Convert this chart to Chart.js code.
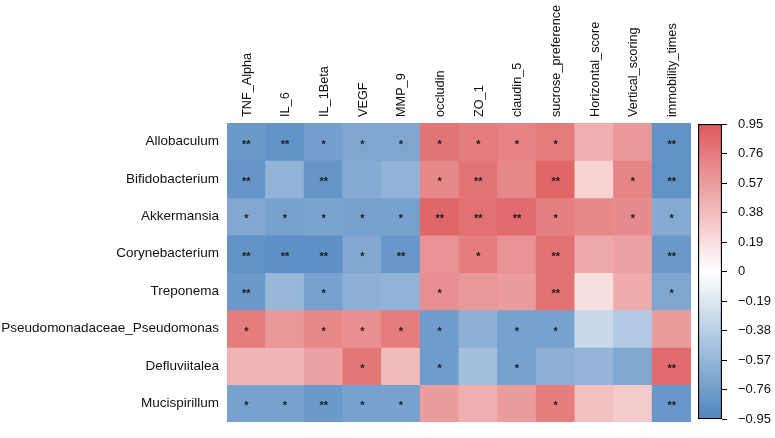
<!DOCTYPE html>
<html>
<head>
<meta charset="utf-8">
<script src="https://cdn.jsdelivr.net/npm/chart.js@4/dist/chart.umd.min.js"></script>
<style>
  html, body { margin: 0; padding: 0; background: #fff; }
  #wrap { position: relative; width: 775px; height: 438px; overflow: hidden; }
  #heat { position: absolute; left: 0; top: 0; }
  #bar { position: absolute; left: 690px; top: 0; }
</style>
</head>
<body>
<div id="wrap">
  <canvas id="heat" width="697" height="438"></canvas>
  <canvas id="bar" width="85" height="438"></canvas>
</div>
<script>
const COLUMNS = ['TNF_Alpha','IL_6','IL_1Beta','VEGF','MMP_9','occludin','ZO_1','claudin_5','sucrose_preference','Horizontal_score','Vertical_scoring','immobility_times'];
const ROWS = ['Allobaculum','Bifidobacterium','Akkermansia','Corynebacterium','Treponema','Pseudomonadaceae_Pseudomonas','Defluviitalea','Mucispirillum'];

const allobaculum      = [-0.80,-0.85,-0.76,-0.70,-0.70, 0.80, 0.75, 0.72, 0.76, 0.46, 0.60,-0.85];
const bifidobacterium  = [-0.83,-0.60,-0.83,-0.66,-0.60, 0.68, 0.80, 0.68, 0.88, 0.26, 0.70,-0.85];
const akkermansia      = [-0.68,-0.74,-0.72,-0.74,-0.74, 0.88, 0.82, 0.85, 0.73, 0.68, 0.66,-0.66];
const corynebacterium  = [-0.85,-0.87,-0.87,-0.68,-0.82, 0.62, 0.75, 0.62, 0.81, 0.50, 0.54,-0.80];
const treponema        = [-0.80,-0.56,-0.74,-0.62,-0.60, 0.64, 0.60, 0.57, 0.81, 0.18, 0.48,-0.70];
const pseudomonas      = [ 0.75, 0.60, 0.68, 0.64, 0.75,-0.78,-0.62,-0.74,-0.74,-0.30,-0.42, 0.57];
const defluviitalea    = [ 0.43, 0.43, 0.54, 0.78, 0.39,-0.78,-0.50,-0.74,-0.62,-0.58,-0.68, 0.85];
const mucispirillum    = [-0.74,-0.74,-0.80,-0.74,-0.74, 0.57, 0.46, 0.57, 0.75, 0.36, 0.30,-0.82];
const VALUES = [allobaculum, bifidobacterium, akkermansia, corynebacterium, treponema, pseudomonas, defluviitalea, mucispirillum];

const sigAllobaculum     = ['**','**','*','*','*','*','*','*','*','','','**'];
const sigBifidobacterium = ['**','','**','','','*','**','','**','','*','**'];
const sigAkkermansia     = ['*','*','*','*','*','**','**','**','*','','*','*'];
const sigCorynebacterium = ['**','**','**','*','**','','*','','**','','','**'];
const sigTreponema       = ['**','','*','','','*','','','**','','','*'];
const sigPseudomonas     = ['*','','*','*','*','*','','*','*','','',''];
const sigDefluviitalea   = ['','','','*','','*','','*','','','','**'];
const sigMucispirillum   = ['*','*','**','*','*','','','','*','','','**'];
const SIG = [sigAllobaculum, sigBifidobacterium, sigAkkermansia, sigCorynebacterium, sigTreponema, sigPseudomonas, sigDefluviitalea, sigMucispirillum];

const SCALE_TICKS = [0.95, 0.76, 0.57, 0.38, 0.19, 0, -0.19, -0.38, -0.57, -0.76, -0.95];
const VMAX = 0.95;

const RED = [221, 90, 92];
const BLUE = [80, 134, 192];
function colorFor(v) {
  const t = Math.min(1, Math.abs(v) / VMAX);
  const c = v >= 0 ? RED : BLUE;
  const r = Math.round(255 + (c[0] - 255) * t);
  const g = Math.round(255 + (c[1] - 255) * t);
  const b = Math.round(255 + (c[2] - 255) * t);
  return `rgb(${r},${g},${b})`;
}

const FONT = '"Liberation Sans", Arial, Helvetica, sans-serif';

const datasets = ROWS.map((name, i) => ({
  label: name,
  data: COLUMNS.map(() => 1),
  backgroundColor: VALUES[i].map(colorFor),
  borderWidth: 0,
  barPercentage: 1,
  categoryPercentage: 1,
  inflateAmount: 0.5
}));

const starPlugin = {
  id: 'stars',
  afterDatasetsDraw(chart) {
    const ctx = chart.ctx;
    const xs = chart.scales.x, ys = chart.scales.y;
    ctx.save();
    ctx.fillStyle = '#1a1a1a';
    ctx.font = 'bold 11px ' + FONT;
    ctx.textAlign = 'center';
    ctx.textBaseline = 'middle';
    SIG.forEach((row, i) => {
      row.forEach((s, j) => {
        if (!s) return;
        const x = xs.getPixelForValue(j);
        const y = ys.getPixelForValue(i + 0.5);
        ctx.fillText(s, x, y + 3);
      });
    });
    ctx.restore();
  }
};

new Chart(document.getElementById('heat'), {
  type: 'bar',
  data: { labels: COLUMNS, datasets },
  options: {
    responsive: false,
    animation: false,
    layout: { padding: { left: 0, right: 6, top: 0, bottom: 4 } },
    plugins: { legend: { display: false }, tooltip: { enabled: false } },
    scales: {
      x: {
        type: 'category',
        position: 'top',
        stacked: true,
        grid: { display: false, drawTicks: false },
        border: { display: false },
        ticks: {
          autoSkip: false, maxRotation: 90, minRotation: 90, padding: 6, labelOffset: 16,
          color: '#111', font: { family: FONT, size: 12.7 }
        },
        afterFit(s) { s.height = 123; }
      },
      y: {
        type: 'linear',
        stacked: true,
        reverse: true,
        min: 0, max: 8,
        grid: { display: false, drawTicks: false },
        border: { display: false },
        afterBuildTicks(s) { s.ticks = ROWS.map((_, i) => ({ value: i + 0.5 })); },
        ticks: {
          padding: 8, color: '#111', font: { family: FONT, size: 13.5 },
          callback: (v) => ROWS[Math.floor(v)]
        },
        afterFit(s) { s.width = 227; }
      }
    }
  },
  plugins: [starPlugin]
});

new Chart(document.getElementById('bar'), {
  type: 'bar',
  data: {
    labels: [''],
    datasets: [{
      data: [[-VMAX, VMAX]],
      backgroundColor(ctx) {
        const ca = ctx.chart.chartArea;
        if (!ca) return '#fff';
        const g = ctx.chart.ctx.createLinearGradient(0, ca.bottom, 0, ca.top);
        g.addColorStop(0, `rgb(${BLUE.join(',')})`);
        g.addColorStop(0.5, '#ffffff');
        g.addColorStop(1, `rgb(${RED.join(',')})`);
        return g;
      },
      borderColor: '#000',
      borderWidth: 1.5,
      borderSkipped: false,
      barPercentage: 1,
      categoryPercentage: 1
    }]
  },
  options: {
    responsive: false,
    animation: false,
    layout: { padding: { left: 8, right: 0, top: 124, bottom: 5 } },
    plugins: { legend: { display: false }, tooltip: { enabled: false } },
    scales: {
      x: { display: false },
      y: {
        position: 'right',
        min: -VMAX, max: VMAX,
        grid: { display: true, drawOnChartArea: false, drawTicks: true, tickLength: 5, color: '#000', lineWidth: 1 },
        border: { display: false },
        afterBuildTicks(s) { s.ticks = SCALE_TICKS.map(v => ({ value: v })); },
        ticks: {
          padding: 11, color: '#111', font: { family: FONT, size: 13 },
          callback: (v) => (v < 0 ? '\u2212' + Math.abs(v) : String(v))
        },
        afterFit(s) { s.width = 53; }
      }
    }
  }
});
</script>
</body>
</html>
